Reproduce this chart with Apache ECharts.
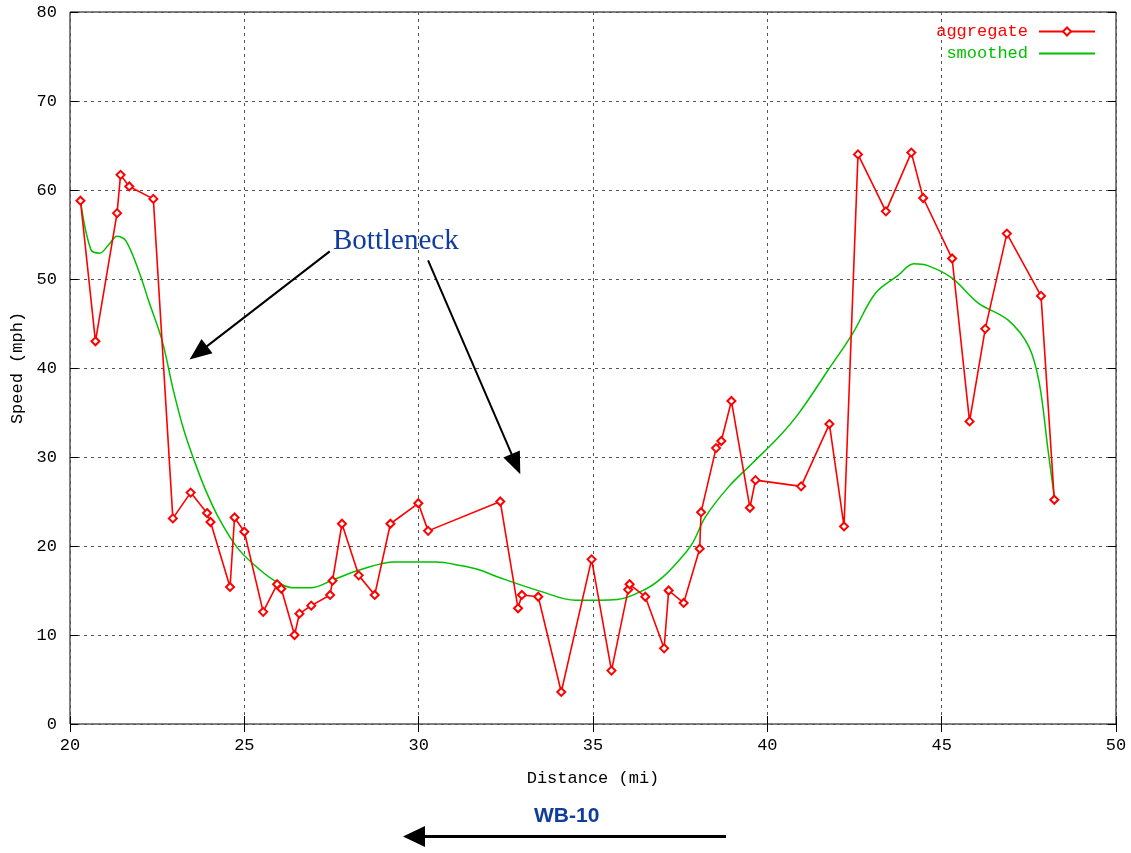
<!DOCTYPE html>
<html>
<head>
<meta charset="utf-8">
<title>Speed vs Distance</title>
<script src="https://cdn.jsdelivr.net/npm/echarts@6/dist/echarts.min.js"></script>
<style>
  html, body { margin: 0; padding: 0; background: #fff; }
  #chart { width: 1131px; height: 853px; }
</style>
</head>
<body>
<div id="chart"></div>
<script>
// aggregate speed readings (mile, mph)
var aggDistance = [20.3, 20.73, 21.35, 21.45, 21.7, 22.39, 22.95, 23.46, 23.93, 24.03,
  24.59, 24.72, 25.0, 25.54, 25.94, 26.06, 26.44, 26.58, 26.92, 27.46,
  27.53, 27.8, 28.28, 28.74, 29.19, 29.99, 30.27, 32.34, 32.85, 32.96,
  33.43, 34.09, 34.96, 35.53, 36.01, 36.05, 36.5, 37.04, 37.17, 37.6,
  38.06, 38.1, 38.53, 38.68, 38.97, 39.5, 39.66, 40.97, 41.78, 42.2,
  42.6, 43.4, 44.13, 44.47, 45.3, 45.8, 46.25, 46.87, 47.85, 48.23];
var aggSpeed = [58.8, 43.0, 57.4, 61.7, 60.4, 59.0, 23.1, 26.0, 23.7, 22.7,
  15.4, 23.2, 21.6, 12.6, 15.7, 15.2, 10.0, 12.4, 13.3, 14.5,
  16.1, 22.5, 16.7, 14.5, 22.5, 24.8, 21.7, 25.0, 13.0, 14.5,
  14.3, 3.6, 18.5, 6.0, 15.1, 15.7, 14.3, 8.5, 15.0, 13.6,
  19.7, 23.8, 31.0, 31.8, 36.3, 24.3, 27.4, 26.7, 33.7, 22.2,
  64.0, 57.6, 64.2, 59.1, 52.3, 34.0, 44.4, 55.1, 48.1, 25.2];

// smoothed curve
var smoothDistance = [20.3, 20.6, 20.85, 21.1, 21.35, 21.6, 22.0, 22.25, 22.64, 22.97,
  23.26, 23.6, 23.92, 24.3, 24.78, 25.25, 25.83, 26.4, 26.9, 27.55,
  28.3, 29.3, 30.5, 31.2, 31.75, 32.35, 33.5, 34.5, 35.7, 36.53,
  37.0, 37.47, 37.85, 38.23, 38.9, 39.57, 40.34, 40.9, 41.75, 42.45,
  43.1, 43.75, 44.2, 44.6, 45.3, 46.05, 46.9, 47.5, 47.8, 48.05, 48.23];
var smoothSpeed = [58.8, 53.3, 52.9, 53.8, 54.8, 54.3, 50.6, 47.6, 43.1, 37.4,
  33.1, 29.2, 26.0, 22.9, 19.9, 18.0, 16.2, 15.3, 15.3, 16.2,
  17.3, 18.2, 18.2, 17.8, 17.3, 16.4, 14.9, 13.9, 14.0, 15.2,
  16.5, 18.4, 20.3, 23.3, 26.7, 29.3, 32.3, 34.9, 39.8, 43.9,
  48.4, 50.4, 51.7, 51.5, 50.1, 47.3, 45.4, 42.4, 38.3, 30.8, 25.5];

// "Bottleneck" arrows: [fromX, fromY, toX, toY] in data units
var bottleneckArrows = [
  [27.45, 53.1, 23.68, 41.7],
  [30.27, 52.1, 32.79, 29.2]
];

var xTicks = { min: 20, max: 50, step: 5 };
var yTicks = { min: 0, max: 80, step: 10 };

function pairs(xs, ys) {
  var out = [];
  for (var i = 0; i < xs.length; i++) out.push([xs[i], ys[i]]);
  return out;
}

var chartDom = document.getElementById("chart");
var myChart = echarts.init(chartDom);
var monoFont = "Liberation Mono";
var option;

var mirrorAxis = {
  type: "value",
  axisLine: { show: false },
  axisLabel: { show: false },
  splitLine: { show: false },
  axisTick: { show: true, inside: true, length: 8, lineStyle: { color: "#000" } }
};

option = {
  backgroundColor: "#fff",
  animation: false,
  grid: {
    left: 70,
    right: 15,
    top: 12,
    bottom: 129,
    show: true,
    borderColor: "#000",
    borderWidth: 1
  },
  legend: {
    orient: "vertical",
    right: 30,
    top: 18,
    align: "right",
    itemWidth: 56,
    itemHeight: 10,
    itemGap: 5,
    textStyle: { fontFamily: monoFont, fontSize: 17, padding: [0, 6, 0, 0] },
    data: [
      { name: "aggregate", textStyle: { color: "#ff0000" } },
      { name: "smoothed", textStyle: { color: "#00c000" }, itemStyle: { opacity: 0 } }
    ]
  },
  xAxis: [
    {
      type: "value",
      min: xTicks.min,
      max: xTicks.max,
      interval: xTicks.step,
      name: "Distance (mi)",
      nameLocation: "middle",
      nameGap: 46,
      nameTextStyle: { fontFamily: monoFont, fontSize: 17, color: "#000" },
      axisLine: { show: false },
      axisTick: { show: true, inside: true, length: 8, lineStyle: { color: "#000" } },
      axisLabel: { fontFamily: monoFont, fontSize: 17, color: "#000", margin: 13 },
      splitLine: { show: true, lineStyle: { color: "#555", type: [3, 4], width: 1 } }
    },
    Object.assign({ position: "top", min: xTicks.min, max: xTicks.max, interval: xTicks.step }, mirrorAxis)
  ],
  yAxis: [
    {
      type: "value",
      min: yTicks.min,
      max: yTicks.max,
      interval: yTicks.step,
      name: "Speed (mph)",
      nameLocation: "middle",
      nameGap: 43,
      nameTextStyle: { fontFamily: monoFont, fontSize: 17, color: "#000" },
      axisLine: { show: false },
      axisTick: { show: true, inside: true, length: 8, lineStyle: { color: "#000" } },
      axisLabel: { fontFamily: monoFont, fontSize: 17, color: "#000", margin: 13 },
      splitLine: { show: true, lineStyle: { color: "#555", type: [3, 4], width: 1 } }
    },
    Object.assign({ position: "right", min: yTicks.min, max: yTicks.max, interval: yTicks.step }, mirrorAxis)
  ],
  series: [
    {
      name: "aggregate",
      type: "line",
      data: pairs(aggDistance, aggSpeed),
      symbol: "emptyDiamond",
      symbolSize: 8,
      showSymbol: true,
      itemStyle: { color: "#ff0000", borderWidth: 1 },
      lineStyle: { color: "#ff0000", width: 1.6 },
      z: 3,
      markLine: {
        silent: true,
        symbol: ["none", "triangle"],
        symbolSize: [18, 22],
        label: { show: false },
        lineStyle: { color: "#000", width: 2, type: "solid" },
        emphasis: { disabled: true },
        data: bottleneckArrows.map(function (a) {
          return [{ coord: [a[0], a[1]] }, { coord: [a[2], a[3]] }];
        })
      }
    },
    {
      name: "smoothed",
      type: "line",
      data: pairs(smoothDistance, smoothSpeed),
      showSymbol: false,
      symbol: "none",
      smooth: 0.35,
      itemStyle: { color: "#00c000" },
      lineStyle: { color: "#00c000", width: 1.5 },
      z: 2
    }
  ],
  graphic: [
    {
      type: "text",
      left: 333,
      top: 227,
      style: { text: "Bottleneck", font: "29px 'Liberation Serif'", fill: "#0f3c9e" }
    },
    {
      type: "text",
      left: 534,
      top: 806,
      style: { text: "WB-10", font: "bold 21px 'Liberation Sans'", fill: "#0f3c9e" }
    },
    {
      type: "line",
      shape: { x1: 420, y1: 836.5, x2: 726, y2: 836.5 },
      style: { stroke: "#000", lineWidth: 3 }
    },
    {
      type: "polygon",
      shape: { points: [[403, 836.5], [425, 826], [425, 847]] },
      style: { fill: "#000" }
    }
  ]
};

option && myChart.setOption(option);
</script>
</body>
</html>
